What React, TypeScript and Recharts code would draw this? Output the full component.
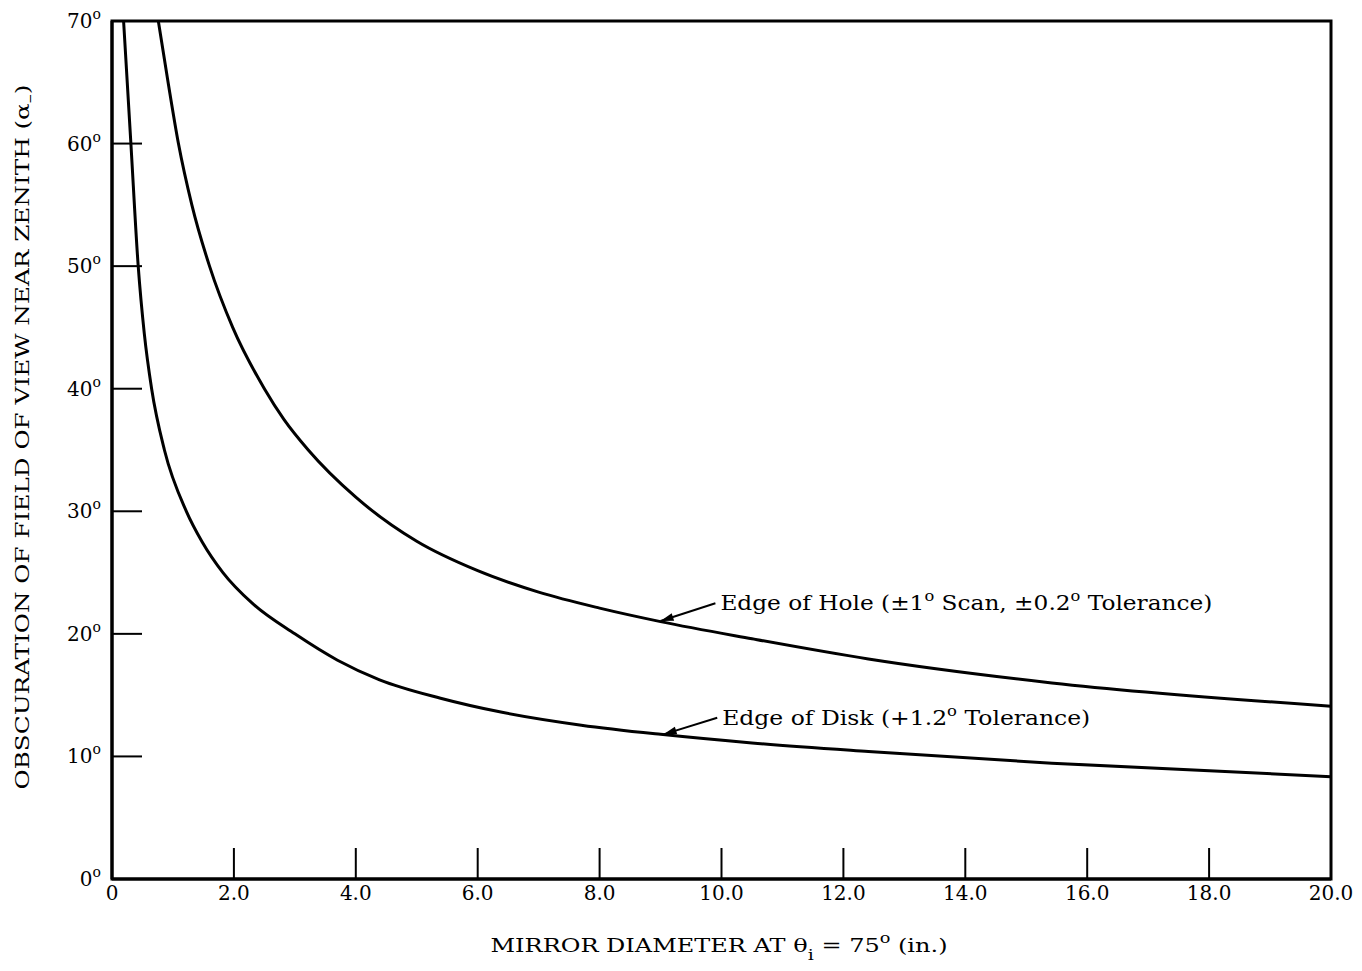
import React from 'react';
import {
  LineChart,
  Line,
  XAxis,
  YAxis,
  ReferenceArea,
  ReferenceLine,
  Label
} from 'recharts';

const FONT = '"DejaVu Serif", serif';

// Edge of hole curve (mirror diameter in inches, obscuration in degrees)
const holeDiameter = [0.76, 0.92, 1.09, 1.31, 1.6, 1.98, 2.5, 2.82, 3.22, 4.0, 5.0, 6.0, 7.0, 8.0, 9.0, 10.5, 12.41, 15.42, 20.0];
const holeAngle = [70, 65, 60, 55, 50, 45, 40, 37.5, 35, 31.15, 27.55, 25.15, 23.4, 22.1, 21.0, 19.6, 17.95, 16.0, 14.1];

// Edge of disk curve
const diskDiameter = [0.19, 0.31, 0.43, 0.53, 0.65, 0.86, 1.22, 1.48, 1.82, 2.3, 3.0, 3.7, 4.39, 5.39, 6.4, 7.7, 9.0, 10.5, 12.41, 15.42, 20.0];
const diskAngle = [70, 60, 50, 44.5, 40, 35, 30, 27.5, 25, 22.5, 20, 17.85, 16.25, 14.75, 13.6, 12.55, 11.8, 11.1, 10.4, 9.45, 8.35];

const xTicks = [0, 2, 4, 6, 8, 10, 12, 14, 16, 18, 20];
const yTicks = [0, 10, 20, 30, 40, 50, 60, 70];

const holeNote = { tip: { x: 9.0, y: 21.05 }, tail: { x: 9.9, y: 22.5 } };
const diskNote = { tip: { x: 9.05, y: 11.8 }, tail: { x: 9.93, y: 13.15 } };

const holeData = holeDiameter.map((d, i) => ({ d, a: holeAngle[i] }));
const diskData = diskDiameter.map((d, i) => ({ d, a: diskAngle[i] }));

const XTick = (props: any) => {
  const { x, y, payload } = props;
  const v = payload.value;
  return (
    <text x={x} y={y} dy="0.71em" textAnchor="middle" fontFamily={FONT} fontSize={20} fill="#000">
      {v === 0 ? '0' : v.toFixed(1)}
    </text>
  );
};

const YTick = (props: any) => {
  const { x, y, payload } = props;
  return (
    <text x={x} y={y} dy="0.35em" textAnchor="end" fontFamily={FONT} fontSize={20} fill="#000">
      {payload.value}
      <tspan dy={-9} fontSize={14}>o</tspan>
    </text>
  );
};

// arrow from the label to the curve, with the label text
const arrowShape = (parts: React.ReactNode, textLen: number) => (props: any) => {
  const { x1, y1, x2, y2 } = props;
  const ang = Math.atan2(y1 - y2, x1 - x2);
  const len = 13;
  const w = 4;
  const bx = x1 - len * Math.cos(ang);
  const by = y1 - len * Math.sin(ang);
  const px = -Math.sin(ang) * w;
  const py = Math.cos(ang) * w;
  return (
    <g>
      <line x1={x1} y1={y1} x2={x2} y2={y2} stroke="#000" strokeWidth={2} />
      <polygon points={`${x1},${y1} ${bx + px},${by + py} ${bx - px},${by - py}`} fill="#000" />
      <text
        x={x2 + 5}
        y={y2}
        dy="0.35em"
        fontFamily={FONT}
        fontSize={20}
        fill="#000"
        textLength={textLen}
        lengthAdjust="spacingAndGlyphs"
      >
        {parts}
      </text>
    </g>
  );
};

export default function App() {
  return (
    <div style={{ position: 'absolute', left: 0, top: 0, background: '#fff' }}>
      <LineChart
        width={1362}
        height={971}
        margin={{ top: 21, right: 31, bottom: 32, left: 0 }}
      >
        <XAxis
          dataKey="d"
          type="number"
          domain={[0, 20]}
          ticks={xTicks}
          allowDuplicatedCategory={false}
          height={60}
          axisLine={{ stroke: '#000', strokeWidth: 3 }}
          tickLine={{ stroke: '#000', strokeWidth: 2 }}
          tickSize={-31}
          tickMargin={38}
          tick={<XTick />}
          interval={0}
        >
          <Label
            content={() => (
              <text
                x={719}
                y={945}
                dy="0.35em"
                textAnchor="middle"
                fontFamily={FONT}
                fontSize={19}
                fill="#000"
                textLength={457}
                lengthAdjust="spacingAndGlyphs"
              >
                MIRROR DIAMETER AT θ
                <tspan dy={8} fontSize={15}>i</tspan>
                <tspan dy={-8}> = 75</tspan>
                <tspan dy={-9} fontSize={14}>o</tspan>
                <tspan dy={9}> (in.)</tspan>
              </text>
            )}
          />
        </XAxis>
        <YAxis
          type="number"
          domain={[0, 70]}
          ticks={yTicks}
          width={112}
          axisLine={{ stroke: '#000', strokeWidth: 3 }}
          tickLine={{ stroke: '#000', strokeWidth: 2 }}
          tickSize={-30}
          tickMargin={41}
          tick={<YTick />}
          interval={0}
        >
          <Label
            content={() => (
              <text
                x={22}
                y={437}
                dy="0.35em"
                textAnchor="middle"
                transform="rotate(-90 22 437)"
                fontFamily={FONT}
                fontSize={19}
                fill="#000"
                textLength={705}
                lengthAdjust="spacingAndGlyphs"
              >
                OBSCURATION OF FIELD OF VIEW NEAR ZENITH (α
                <tspan dy={5} fontSize={14}>–</tspan>
                <tspan dy={-5}>)</tspan>
              </text>
            )}
          />
        </YAxis>
        <ReferenceArea x1={0} x2={20} y1={0} y2={70} fill="none" stroke="#000" strokeWidth={3} ifOverflow="visible" />
        <Line
          data={holeData}
          dataKey="a"
          type="monotone"
          stroke="#000"
          strokeWidth={3}
          dot={false}
          isAnimationActive={false}
        />
        <Line
          data={diskData}
          dataKey="a"
          type="monotone"
          stroke="#000"
          strokeWidth={3}
          dot={false}
          isAnimationActive={false}
        />
        <ReferenceLine
          segment={[holeNote.tip, holeNote.tail]}
          ifOverflow="visible"
          shape={arrowShape(
            <>
              Edge of Hole (±1<tspan dy={-9} fontSize={14}>o</tspan>
              <tspan dy={9}> Scan, ±0.2</tspan>
              <tspan dy={-9} fontSize={14}>o</tspan>
              <tspan dy={9}> Tolerance)</tspan>
            </>,
            492
          )}
        />
        <ReferenceLine
          segment={[diskNote.tip, diskNote.tail]}
          ifOverflow="visible"
          shape={arrowShape(
            <>
              Edge of Disk (+1.2<tspan dy={-9} fontSize={14}>o</tspan>
              <tspan dy={9}> Tolerance)</tspan>
            </>,
            368
          )}
        />
      </LineChart>
    </div>
  );
}
